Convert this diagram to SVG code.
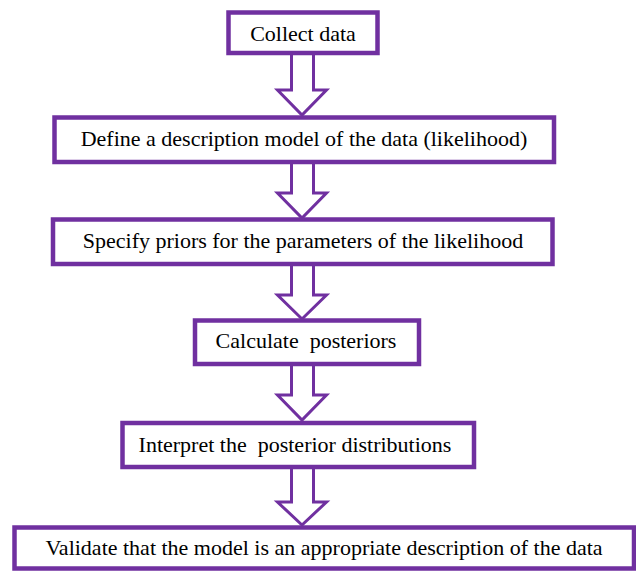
<svg xmlns="http://www.w3.org/2000/svg" width="636" height="571" viewBox="0 0 636 571">
<style>
.box{fill:#fff;stroke:#7030A0;stroke-width:4.5}
.arr{fill:#fff;stroke:#7030A0;stroke-width:3;stroke-linejoin:miter}
.t{font-family:"Liberation Serif","Times New Roman",serif;font-size:22px;fill:#000;text-anchor:middle;white-space:pre}
</style>
<rect width="636" height="571" fill="#fff"/>
<g id="connectors">
<path class="arr" d="M291.5 55 V90 H277.5 L302 115 L326.5 90 H313.5 V55"/>
<path class="arr" d="M291.5 162 V193 H277.5 L302 218 L326.5 193 H313.5 V162"/>
<path class="arr" d="M291.5 264 V295 H277.5 L302 319 L326.5 295 H313.5 V264"/>
<path class="arr" d="M291.5 364 V395 H277.5 L302 420 L326.5 395 H313.5 V364"/>
<path class="arr" d="M291.5 467 V502 H277.5 L302 525 L326.5 502 H313.5 V467"/>
</g>
<g id="n1"><rect class="box" x="228.5" y="12.5" width="149" height="40.5"/><text class="t" x="303" y="41">Collect data</text></g>
<g id="n2"><rect class="box" x="54.5" y="117.5" width="499.5" height="44.5"/><text class="t" x="304" y="146">Define a description model of the data (likelihood)</text></g>
<g id="n3"><rect class="box" x="53" y="219.5" width="499.5" height="44.5"/><text class="t" x="303" y="248">Specify priors for the parameters of the likelihood</text></g>
<g id="n4"><rect class="box" x="195" y="320.5" width="224" height="43.5"/><text class="t" x="306" y="348" xml:space="preserve">Calculate  posteriors</text></g>
<g id="n5"><rect class="box" x="122.5" y="423" width="351.5" height="44"/><text class="t" x="295" y="452" xml:space="preserve">Interpret the  posterior distributions</text></g>
<g id="n6"><rect class="box" x="14.5" y="527.5" width="619.5" height="41"/><text class="t" x="324" y="555">Validate that the model is an appropriate description of the data</text></g>
</svg>
